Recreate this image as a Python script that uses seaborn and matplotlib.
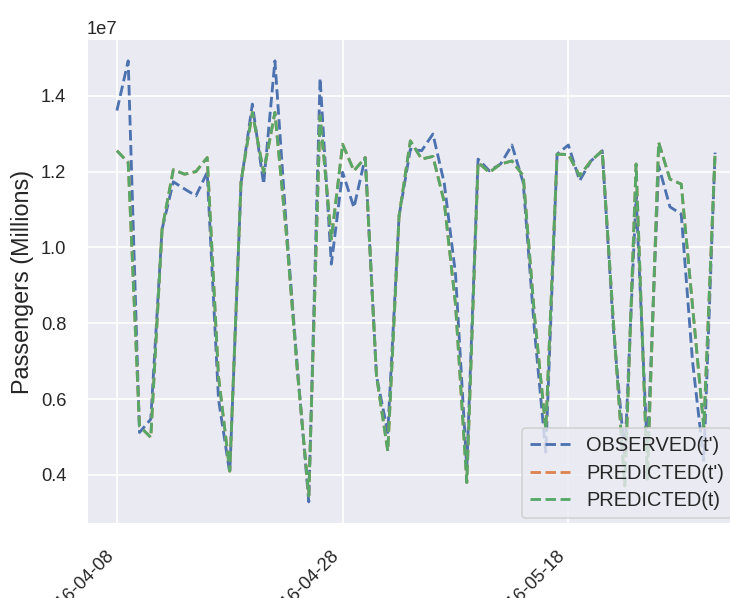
import numpy as np
import pandas as pd
import matplotlib
matplotlib.use("Agg")
import matplotlib.pyplot as plt
import matplotlib.dates as mdates
import seaborn as sns

# ---- data (values in passengers) ----
start_date = "2016-04-08"
observed = [1.361, 1.492, 0.512, 0.547, 1.048, 1.173, 1.154, 1.136, 1.198, 0.600,
            0.405, 1.170, 1.378, 1.167, 1.492, 1.060, 0.680, 0.329, 1.446, 0.956,
            1.198, 1.105, 1.237, 0.661, 0.512, 1.083, 1.259, 1.255, 1.299, 1.170,
            0.930, 0.420, 1.233, 1.202, 1.220, 1.270, 1.171, 0.780, 0.460, 1.246,
            1.270, 1.176, 1.228, 1.255, 0.780, 0.450, 1.136, 0.460, 1.215, 1.107,
            1.088, 0.700, 0.438, 1.250]
predicted_t = [1.255, 1.224, 0.529, 0.499, 1.048, 1.205, 1.193, 1.200, 1.237, 0.660,
               0.410, 1.175, 1.356, 1.198, 1.356, 1.040, 0.670, 0.345, 1.347, 1.022,
               1.272, 1.202, 1.237, 0.661, 0.463, 1.083, 1.281, 1.233, 1.240, 1.120,
               0.850, 0.380, 1.224, 1.198, 1.220, 1.228, 1.189, 0.820, 0.520, 1.246,
               1.245, 1.189, 1.228, 1.255, 0.800, 0.371, 1.220, 0.389, 1.277, 1.180,
               1.167, 0.846, 0.526, 1.250]
# PREDICTED(t') is fully hidden beneath PREDICTED(t) in the reference
predicted_tp = list(predicted_t)
series_labels = ["OBSERVED(t')", "PREDICTED(t')", "PREDICTED(t)"]
scale = 1e7

dates = pd.date_range(start_date, periods=len(observed), freq="D")

sns.set_theme(style="darkgrid")
plt.rcParams["font.family"] = ["Liberation Sans", "DejaVu Sans"]

W, H, DPI = 730, 598, 120
fig = plt.figure(figsize=(W / DPI, H / DPI), dpi=DPI)
ax = fig.add_axes([87 / W, (H - 524) / H, 658 / W, 485 / H])

palette = sns.color_palette("deep")
for vals, lab, col in zip([observed, predicted_tp, predicted_t], series_labels,
                          [palette[0], palette[1], palette[2]]):
    df = pd.DataFrame({"date": dates, "value": np.array(vals) * scale})
    sns.lineplot(data=df, x="date", y="value", ax=ax, label=lab, color=col,
                 linestyle="--", linewidth=1.7)

ax.set_ylim(0.2707 * scale, 1.5496 * scale)
ax.set_xticks(dates[::20])
ax.xaxis.set_major_formatter(mdates.DateFormatter("%Y-%m-%d"))
plt.setp(ax.get_xticklabels(), rotation=45, ha="right")
ax.tick_params(axis="x", pad=8)
ax.tick_params(axis="y", pad=6.5)
ax.set_xlabel("")
ax.set_ylabel("Passengers (Millions)", fontsize=14, labelpad=4)
ax.legend(loc="lower right", fontsize=12, bbox_to_anchor=(0.980, 0.0124),
          borderaxespad=0, labelspacing=0.42)

fig.savefig("out.png", dpi=DPI)
